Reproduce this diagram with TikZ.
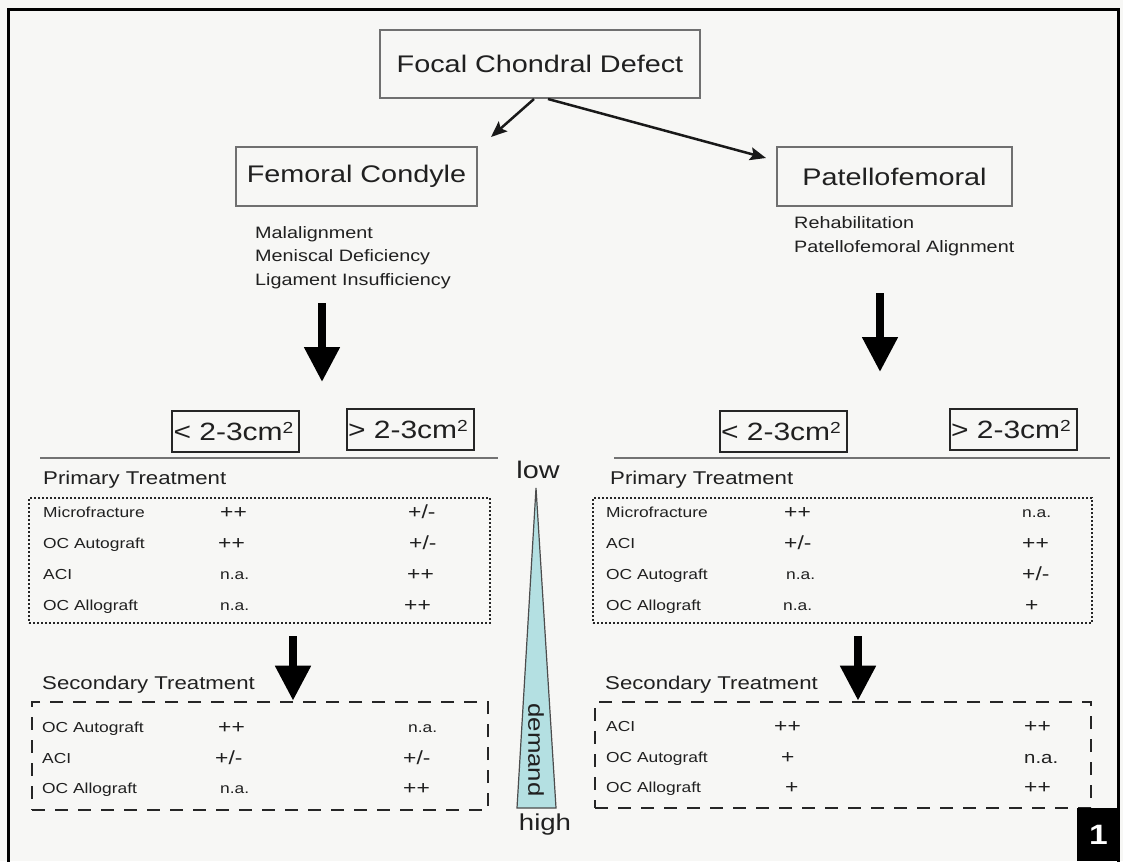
\documentclass[tikz,border=0pt]{standalone}
\usepackage{fontspec}
\setmainfont{Liberation Sans}[FakeStretch=1.2]
\usetikzlibrary{arrows.meta}
\definecolor{bgcol}{HTML}{F7F7F5}
\definecolor{wedgecol}{HTML}{B4E0E2}
\definecolor{boxline}{HTML}{707070}
\definecolor{txt}{HTML}{202020}
\newcommand{\fsz}[2]{\fontsize{#1}{#2}\selectfont}
\newcommand{\sqcm}{cm\raisebox{6.5pt}{\fsz{16}{16}2}}
\begin{document}
\begin{tikzpicture}[x=1pt,y=-1pt,
  mainbox/.style={draw=boxline,line width=2pt,inner sep=0pt,text=txt,font=\fsz{24}{28}},
  sizebox/.style={draw=black!85,line width=2pt,inner sep=1.5pt,minimum height=41pt,text width=124pt,align=left,text=txt,font=\fsz{25}{28}},
  thinarrow/.style={-{Stealth[length=16pt,width=13pt,inset=3pt]},line width=2.5pt,draw=black!90},
  bigarrow/.style={-{Triangle[length=35pt,width=34pt]},line width=8pt},
  risk/.style={anchor=west,align=left,inner sep=0pt,text=txt,font=\fsz{16.5}{23.5}},
  head/.style={anchor=west,inner sep=0pt,text=txt,font=\fsz{18.5}{22}},
  cell/.style={anchor=west,inner sep=0pt,text height=10.5pt,text depth=0pt,text=txt,font=\fsz{14.5}{16}},
  val/.style={anchor=west,inner sep=0pt,text height=12pt,text depth=0pt,text=txt,font=\fsz{19}{20}},
  dotbox/.style={draw=black!85,line width=2.2pt,dash pattern=on 2pt off 2pt,inner sep=0pt},
  dashbox/.style={draw=black!85,line width=2.6pt,dash pattern=on 13pt off 10pt,inner sep=0pt},
  sepline/.style={draw=black!55,line width=1.5pt}]
\useasboundingbox (0,0) rectangle (1123,861);
\clip (0,0) rectangle (1123,861);
\fill[bgcol] (0,0) rectangle (1123,861);
\draw[line width=3pt] (8,880) -- (8,9.5) -- (1118,9.5) -- (1118,880);

% main boxes
\node[mainbox,minimum width=320pt,minimum height=68pt] (focal) at (540,64) {Focal Chondral Defect};
\node[mainbox,minimum width=241pt,minimum height=59pt] (femoral) at (356.5,176.5) {Femoral Condyle};
\node[mainbox,minimum width=235pt,minimum height=59pt] (patello) at (894.5,176.5) {Patellofemoral};

\coordinate (fcEnd) at (491,137);
\coordinate (pfEnd) at (766,158);
\draw[thinarrow] ([xshift=-6pt]focal.south) -- (fcEnd);
\draw[thinarrow] ([xshift=8pt]focal.south) -- (pfEnd);

% risk factors
\node[risk] (riskL) at (255,257.5) {Malalignment\\Meniscal Deficiency\\Ligament Insufficiency};
\node[risk] (riskR) at (794,236) {Rehabilitation\\Patellofemoral Alignment};

% big arrows
\coordinate (bL1) at (322,303);
\coordinate (bL2) at (322,382);
\coordinate (bR1) at (880,293);
\coordinate (bR2) at (880,372);
\draw[bigarrow] (bL1) -- (bL2);
\draw[bigarrow] (bR1) -- (bR2);

% size boxes
\node[sizebox] (sLs) at (235.5,431.5) {< 2-3\sqcm};
\node[sizebox] (sLb) at (410,429.5) {> 2-3\sqcm};
\node[sizebox] (sRs) at (783,431.5) {< 2-3\sqcm};
\node[sizebox] (sRb) at (1013,429.5) {> 2-3\sqcm};
\draw[sepline] (40,458) -- (498,458);
\draw[sepline] (614,458) -- (1110,458);

% primary left
\node[head] (pTL) at (43,480) {Primary Treatment};
\node[dotbox,minimum width=461pt,minimum height=125pt] (primL) at (259.5,560.5) {};
\node[cell] (pl1a) at (43,512) {Microfracture};
\node[val] (pl1b) at (220,512) {++};
\node[val] (pl1c) at (408,512) {+/-};
\node[cell] (pl2a) at (43,543) {OC Autograft};
\node[val] (pl2b) at (218,543) {++};
\node[val] (pl2c) at (409,543) {+/-};
\node[cell] (pl3a) at (43,574) {ACI};
\node[cell] (pl3b) at (220,574) {n.a.};
\node[val] (pl3c) at (407,574) {++};
\node[cell] (pl4a) at (43,605) {OC Allograft};
\node[cell] (pl4b) at (220,605) {n.a.};
\node[val] (pl4c) at (404,605) {++};

% primary right
\node[head] (pTR) at (610,480) {Primary Treatment};
\node[dotbox,minimum width=499pt,minimum height=125pt] (primR) at (842.5,560.5) {};
\node[cell] (pr1a) at (606,512) {Microfracture};
\node[val] (pr1b) at (784,512) {++};
\node[cell] (pr1c) at (1022,512) {n.a.};
\node[cell] (pr2a) at (606,543) {ACI};
\node[val] (pr2b) at (784,543) {+/-};
\node[val] (pr2c) at (1022,543) {++};
\node[cell] (pr3a) at (606,574) {OC Autograft};
\node[cell] (pr3b) at (786,574) {n.a.};
\node[val] (pr3c) at (1022,574) {+/-};
\node[cell] (pr4a) at (606,605) {OC Allograft};
\node[cell] (pr4b) at (783,605) {n.a.};
\node[val] (pr4c) at (1025,605) {+};

% secondary left
\node[head] (sTL) at (42,685) {Secondary Treatment};
\node[dashbox,minimum width=456pt,minimum height=108pt] (secL) at (260,756) {};
\node[cell] (sl1a) at (42,727) {OC Autograft};
\node[val] (sl1b) at (218,727) {++};
\node[cell] (sl1c) at (408,727) {n.a.};
\node[cell] (sl2a) at (42,758) {ACI};
\node[val] (sl2b) at (215,758) {+/-};
\node[val] (sl2c) at (403,758) {+/-};
\node[cell] (sl3a) at (42,788) {OC Allograft};
\node[cell] (sl3b) at (220,788) {n.a.};
\node[val] (sl3c) at (403,788) {++};

% secondary right
\node[head] (sTR) at (605,685) {Secondary Treatment};
\node[dashbox,minimum width=496pt,minimum height=106pt] (secR) at (843,755) {};
\node[cell] (sr1a) at (606,726) {ACI};
\node[val] (sr1b) at (774,726) {++};
\node[val] (sr1c) at (1024,726) {++};
\node[cell] (sr2a) at (606,757) {OC Autograft};
\node[val] (sr2b) at (781,757) {+};
\node[val,font=\fsz{17}{18}] (sr2c) at (1024,757) {n.a.};
\node[cell] (sr3a) at (606,787) {OC Allograft};
\node[val] (sr3b) at (785,787) {+};
\node[val] (sr3c) at (1024,787) {++};

% arrows primary -> secondary
\coordinate (aL) at (293,636);
\coordinate (aR) at (858,636);
\draw[bigarrow] (aL) -- (aL |- secL.north);
\draw[bigarrow] (aR) -- (aR |- secR.north);

% demand wedge
\draw[fill=wedgecol,draw=black!70,line width=1.2pt] (536,488) -- (556,808) -- (517,808) -- cycle;
\node[inner sep=0pt,text=txt,font=\fsz{24}{26}] (low) at (538,470) {low};
\node[inner sep=0pt,text=txt,font=\fsz{23}{26}] (high) at (545,825) {high};
\node[rotate=-90,inner sep=0pt,text=txt,font=\fsz{21.5}{24}] (demand) at (536,750) {demand};

% figure number
\node[fill=black,text=white,minimum width=43pt,minimum height=53pt,inner sep=0pt,font=\fsz{28}{30}\bfseries] (num) at (1098.5,834.5) {1};
\end{tikzpicture}
\end{document}
